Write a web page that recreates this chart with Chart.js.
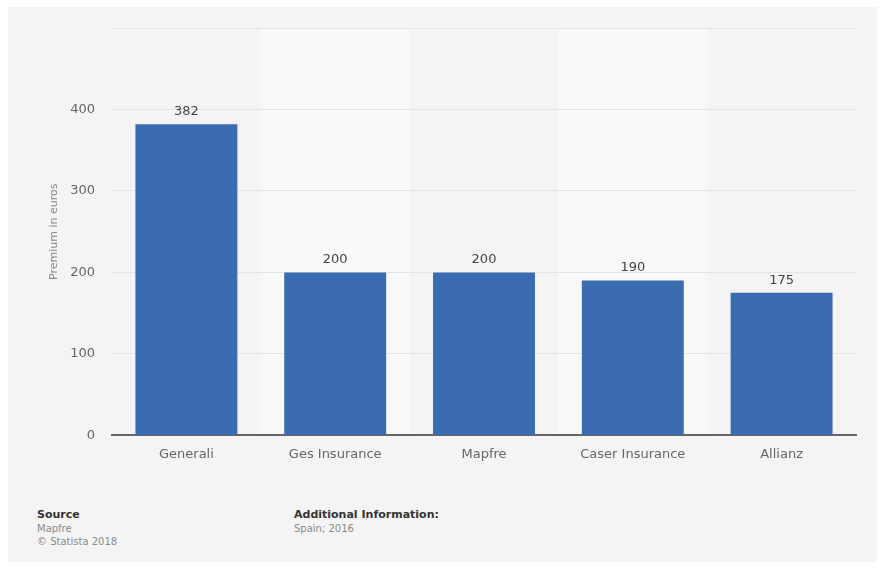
<!DOCTYPE html>
<html>
<head>
<meta charset="utf-8">
<script src="https://cdn.jsdelivr.net/npm/chart.js@4.4.1/dist/chart.umd.min.js"></script>
<style>
  html, body { margin: 0; padding: 0; background: #ffffff; }
  body { width: 883px; height: 577px; position: relative; overflow: hidden; font-family: "DejaVu Sans", sans-serif; }
  .panel { position: absolute; left: 8px; top: 7px; width: 869px; height: 555px; background: #f4f4f4; }
  #chartWrap { position: absolute; left: 0; top: 0; width: 869px; height: 466px; }
  .foot { position: absolute; font-size: 10px; color: #8a8a8a; line-height: 13.5px; }
  .foot b { color: #333; font-size: 11px; }
</style>
</head>
<body>
<div class="panel">
  <div id="chartWrap"><canvas id="premiumChart"></canvas></div>
  <div class="foot" style="left:29px; top:501px;"><b>Source</b><br>Mapfre<br>© Statista 2018</div>
  <div class="foot" style="left:286px; top:501px;"><b>Additional Information:</b><br>Spain; 2016</div>
</div>
<script>
// Data
const insurers = ['Generali', 'Ges Insurance', 'Mapfre', 'Caser Insurance', 'Allianz'];
const premiums = [382, 200, 200, 190, 175];
const yTicks = [0, 100, 200, 300, 400, 500];

// alternating column bands behind bars
const bandPlugin = {
  id: 'bands',
  beforeDraw(chart) {
    const { ctx, chartArea, scales } = chart;
    const x = scales.x;
    const step = x.width / insurers.length;
    ctx.save();
    ctx.fillStyle = '#f9f9f9';
    insurers.forEach((name, i) => {
      if (i % 2 === 1) {
        const cx = x.getPixelForValue(i);
        ctx.fillRect(cx - step / 2, chartArea.top, step, chartArea.bottom - chartArea.top);
      }
    });
    ctx.restore();
  }
};

// value labels above bars
const valueLabels = {
  id: 'valueLabels',
  afterDatasetsDraw(chart) {
    const { ctx } = chart;
    const meta = chart.getDatasetMeta(0);
    ctx.save();
    ctx.font = '13px "DejaVu Sans"';
    ctx.fillStyle = '#444';
    ctx.textAlign = 'center';
    ctx.textBaseline = 'bottom';
    meta.data.forEach((bar, i) => {
      ctx.fillText(premiums[i], bar.x, bar.y - 6);
    });
    ctx.restore();
  }
};

const ctx = document.getElementById('premiumChart').getContext('2d');
const premiumChart = new Chart(ctx, {
  type: 'bar',
  data: {
    labels: insurers,
    datasets: [{
      label: 'Premium in euros',
      data: premiums,
      backgroundColor: '#3b6bb0',
      categoryPercentage: 1,
      barPercentage: 0.685
    }]
  },
  options: {
    responsive: true,
    maintainAspectRatio: false,
    animation: false,
    layout: { padding: { top: 21, right: 21, bottom: 0, left: 0 } },
    plugins: { legend: { display: false }, tooltip: { enabled: false } },
    scales: {
      x: {
        grid: { display: false, drawTicks: false },
        border: { color: '#666', width: 2 },
        ticks: { color: '#666', font: { family: 'DejaVu Sans', size: 13 }, padding: 11 }
      },
      y: {
        min: 0,
        max: 500,
        afterBuildTicks: axis => { axis.ticks = yTicks.map(v => ({ value: v })); },
        afterFit: axis => { axis.width = 104; },
        grid: { color: '#e4e4e4', drawTicks: true, tickLength: 17, tickColor: 'rgba(0,0,0,0)' },
        border: { display: false },
        ticks: {
          color: '#666',
          font: { family: 'DejaVu Sans', size: 13 },
          padding: 0,
          callback: v => (v === 500 ? '' : v)
        },
        title: {
          display: true,
          text: 'Premium in euros',
          color: '#888',
          font: { family: 'DejaVu Sans', size: 11 },
          padding: { top: 40, bottom: 0 }
        }
      }
    }
  },
  plugins: [bandPlugin, valueLabels]
});
</script>
</body>
</html>
